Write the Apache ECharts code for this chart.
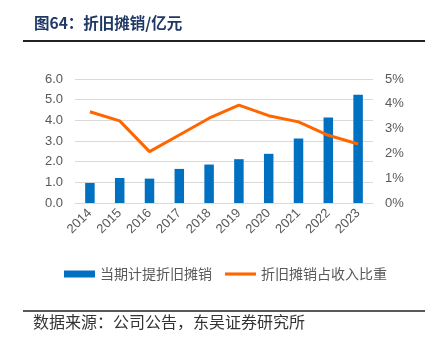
<!DOCTYPE html>
<html><head><meta charset="utf-8">
<script src="https://cdn.jsdelivr.net/npm/echarts@6/dist/echarts.min.js"></script>
<style>html,body{margin:0;padding:0;background:#fff}#c{width:435px;height:340px}</style>
</head><body><div id="c"></div>
<script>
const years = ['2014','2015','2016','2017','2018','2019','2020','2021','2022','2023'];
const depreciation = [0.97, 1.21, 1.18, 1.65, 1.86, 2.12, 2.38, 3.12, 4.14, 5.24];
const shareOfRevenue = [3.68, 3.31, 2.07, 2.74, 3.42, 3.95, 3.52, 3.27, 2.73, 2.38];
const leftTicks = ['0.0','1.0','2.0','3.0','4.0','5.0','6.0'];
const rightTicks = ['0%','1%','2%','3%','4%','5%'];

const chart = echarts.init(document.getElementById('c'), null, {renderer:'canvas'});
const axisFont = {color:'#595959', fontSize:13, fontFamily:'Liberation Sans, Arial, sans-serif'};
chart.setOption({
  animation:false,
  graphic:[
    {type:'text', left:34, top:15, style:{text:'图64：折旧摊销/亿元', fontSize:15.5, fontWeight:'bold', fill:'#1f3864', fontFamily:'Noto Sans CJK SC'}},
    {type:'line', shape:{x1:23,y1:41,x2:425,y2:41}, style:{stroke:'#222', lineWidth:2}},
    {type:'line', shape:{x1:23,y1:311,x2:425,y2:311}, style:{stroke:'#222', lineWidth:1.5}},
    {type:'text', left:33, top:314, style:{text:'数据来源：公司公告，东吴证券研究所', fontSize:16, fill:'#333', fontFamily:'Noto Sans CJK SC'}}
  ],
  grid:{left:75, right:62, top:79, bottom:137},
  legend:{
    top:262, left:59, itemGap:13, itemWidth:31, itemHeight:7,
    textStyle:{color:'#595959', fontSize:14, fontFamily:'Noto Sans CJK SC'},
    data:[{name:'当期计提折旧摊销', icon:'rect'},{name:'折旧摊销占收入比重', icon:'path://M0,0 L10,0 L10,1 L0,1 Z'}]
  },
  xAxis:{
    type:'category', data:years,
    axisLine:{show:true, lineStyle:{color:'#d9d9d9'}}, axisTick:{show:false},
    axisLabel:Object.assign({rotate:45, margin:8}, axisFont)
  },
  yAxis:[
    {type:'value', min:0, max:6, interval:1,
     axisLabel:Object.assign({formatter:(v)=>leftTicks[Math.round(v)], margin:12}, axisFont),
     splitLine:{lineStyle:{color:'#d9d9d9', width:1}}, axisLine:{show:false}, axisTick:{show:false}},
    {type:'value', min:0, max:5, interval:1,
     axisLabel:Object.assign({formatter:(v)=>rightTicks[Math.round(v)], margin:12}, axisFont),
     splitLine:{show:false}, axisLine:{show:false}, axisTick:{show:false}}
  ],
  series:[
    {name:'当期计提折旧摊销', type:'bar', data:depreciation, barWidth:9.5, itemStyle:{color:'#0070c0'}},
    {name:'折旧摊销占收入比重', type:'line', yAxisIndex:1, data:shareOfRevenue, symbol:'none',
     lineStyle:{color:'#ff6600', width:3}, itemStyle:{color:'#ff6600'}}
  ]
});
</script></body></html>
